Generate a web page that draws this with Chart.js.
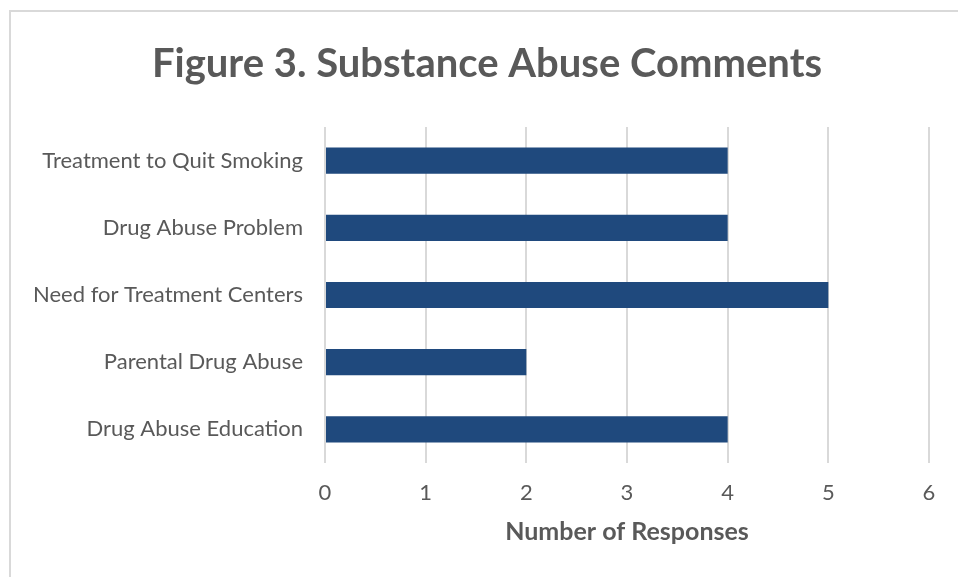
<!DOCTYPE html>
<html lang="en">
<head>
    <meta charset="UTF-8">
    <title>Figure 3. Substance Abuse Comments</title>
    <script src="https://cdn.jsdelivr.net/npm/chart.js"></script>
    <style>
        body { margin: 0; background: #fff; overflow: hidden; }
        .frame {
            position: absolute; left: 9px; top: 10px;
            width: 980px; height: 600px;
            border: 2px solid #d9d9d9;
        }
        /* a little wider than the window so the title centres like the original */
        .chart-box { position: absolute; left: 0; top: 0; width: 974px; height: 577px; }
    </style>
</head>
<body>
    <div class="frame"></div>
    <div class="chart-box">
        <canvas id="commentsChart"></canvas>
    </div>

    <script>
        // Chart data
        const categories = [
            "Treatment to Quit Smoking",
            "Drug Abuse Problem",
            "Need for Treatment Centers",
            "Parental Drug Abuse",
            "Drug Abuse Education"
        ];
        const responses = [4, 4, 5, 2, 4];
        const xTicks = [0, 1, 2, 3, 4, 5, 6];

        const grey = '#595959';
        const font = "Lato, 'Open Sans', sans-serif";

        const ctx = document.getElementById('commentsChart').getContext('2d');
        new Chart(ctx, {
            type: 'bar',
            data: {
                labels: categories,
                datasets: [{
                    label: 'Number of Responses',
                    data: responses,
                    backgroundColor: '#1F497D',
                    borderWidth: 0,
                    categoryPercentage: 1,
                    barPercentage: 0.39
                }]
            },
            options: {
                indexAxis: 'y',
                responsive: true,
                maintainAspectRatio: false,
                animation: false,
                layout: { padding: 0 },
                plugins: {
                    legend: { display: false },
                    tooltip: { enabled: false },
                    title: {
                        display: true,
                        text: 'Figure 3. Substance Abuse Comments',
                        color: grey,
                        font: { family: font, size: 40, weight: 'bold' },
                        padding: { top: 40, bottom: 39 }
                    }
                },
                scales: {
                    x: {
                        min: 0,
                        max: xTicks[xTicks.length - 1],
                        afterBuildTicks: (scale) => {
                            scale.ticks = xTicks.map(v => ({ value: v }));
                        },
                        afterFit: (scale) => { scale.height = 577 - 463; },
                        border: { display: false },
                        grid: { color: '#d9d9d9', lineWidth: 2, drawTicks: false },
                        ticks: { color: grey, padding: 16.8, font: { family: font, size: 22 } },
                        title: {
                            display: true,
                            text: 'Number of Responses',
                            color: grey,
                            font: { family: font, size: 25, weight: 'bold' },
                            padding: { top: 0, bottom: 30 }
                        }
                    },
                    y: {
                        afterFit: (scale) => { scale.width = 325; },
                        border: { display: false },
                        grid: { display: false, drawTicks: false },
                        ticks: { color: grey, padding: 22, font: { family: font, size: 22 } }
                    },
                    // empty right-hand spacer so the plot ends at the same place
                    spacer: {
                        type: 'category',
                        position: 'right',
                        afterFit: (scale) => { scale.width = 974 - 929; },
                        border: { display: false },
                        grid: { display: false, drawTicks: false },
                        ticks: { display: false }
                    }
                }
            }
        });
    </script>
</body>
</html>
